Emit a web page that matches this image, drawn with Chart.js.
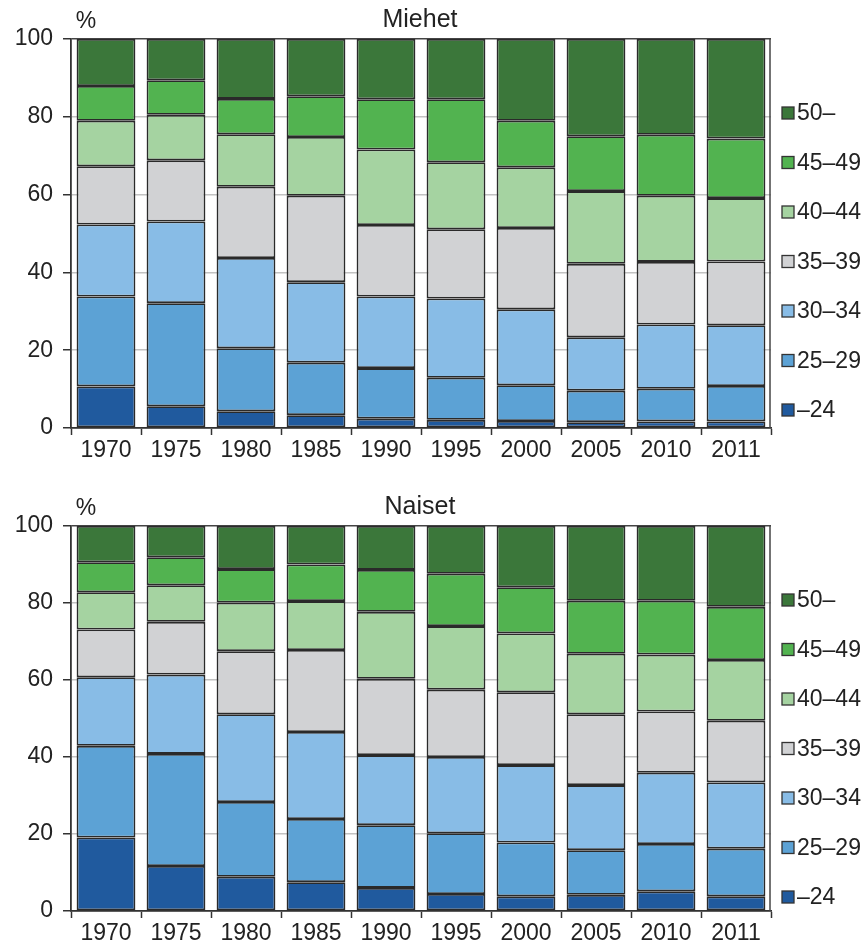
<!DOCTYPE html>
<html>
<head>
<meta charset="utf-8">
<script src="https://cdn.jsdelivr.net/npm/chart.js@4.4.0/dist/chart.umd.min.js"></script>
<style>
  body { margin: 0; background: #fff; }
  .wrap { position: absolute; left: 0; width: 866px; }
</style>
</head>
<body>
<div class="wrap" style="top:0"><canvas id="miehet" width="866" height="461"></canvas></div>
<div class="wrap" style="top:486px"><canvas id="naiset" width="866" height="458"></canvas></div>
<script>
// vuodet ja ikäryhmät
const vuodet = ["1970", "1975", "1980", "1985", "1990", "1995", "2000", "2005", "2010", "2011"];
const ikaryhmat = ["–24", "25–29", "30–34", "35–39", "40–44", "45–49", "50–"];
const varit = ["#205a9e", "#5ca2d5", "#88bce6", "#d1d2d4", "#a5d3a1", "#52b350", "#3b773a"];

// Miehet, % (luettu kuvasta)
const m24 = [10.7, 5.6, 4.3, 3.3, 2.4, 2.1, 1.8, 1.5, 1.7, 1.7];
const m25 = [23.1, 26.5, 16.2, 13.5, 13.0, 10.8, 9.2, 8.1, 8.4, 9.1];
const m30 = [18.5, 21.0, 23.2, 20.7, 18.4, 20.4, 19.5, 13.7, 16.5, 15.6];
const m35 = [15.0, 15.7, 18.3, 22.2, 18.4, 17.8, 20.9, 18.9, 16.1, 16.4];
const m40 = [11.7, 11.7, 13.5, 15.1, 19.4, 17.2, 15.6, 18.7, 17.0, 16.3];
const m45 = [8.9, 8.9, 9.1, 10.5, 12.9, 16.2, 12.0, 14.1, 15.7, 15.3];
const m50 = [12.1, 10.6, 15.4, 14.7, 15.5, 15.5, 21.0, 25.0, 24.6, 25.6];

// Naiset, %
const n24 = [19.1, 11.7, 8.9, 7.5, 6.0, 4.4, 3.8, 4.2, 5.1, 3.8];
const n25 = [23.8, 29.1, 19.4, 16.4, 16.3, 15.8, 14.0, 11.6, 12.3, 12.4];
const n30 = [17.8, 20.6, 22.8, 22.6, 18.2, 19.8, 20.1, 16.9, 18.5, 17.2];
const n35 = [12.4, 13.7, 16.4, 21.3, 19.8, 17.5, 18.9, 18.4, 15.9, 16.0];
const n40 = [9.7, 9.5, 12.6, 12.7, 17.4, 16.5, 15.3, 15.7, 14.8, 15.8];
const n45 = [7.8, 7.3, 8.7, 9.5, 10.9, 13.6, 12.0, 13.8, 14.0, 13.8];
const n50 = [9.4, 8.1, 11.2, 10.0, 11.4, 12.4, 15.9, 19.4, 19.4, 21.0];

const yTicks = [0, 20, 40, 60, 80, 100];

Chart.defaults.font.family = "'Liberation Sans', Arial, sans-serif";
Chart.defaults.font.size = 23;
Chart.defaults.color = "#222";

// otsikko, % -merkki, kehys ja selite piirretään itse
const koristeet = {
    id: "koristeet",
    afterDraw(chart, args, opts) {
        const ctx = chart.ctx;
        const a = chart.chartArea;
        ctx.save();
        // oikea reuna
        ctx.strokeStyle = "#444";
        ctx.lineWidth = 1.5;
        ctx.beginPath();
        ctx.moveTo(a.right - 1, a.top);
        ctx.lineTo(a.right - 1, a.bottom);
        ctx.stroke();

        ctx.fillStyle = "#222";
        ctx.textBaseline = "middle";
        ctx.textAlign = "center";
        ctx.font = "25px 'Liberation Sans', Arial, sans-serif";
        ctx.fillText(opts.otsikko, (a.left + a.right) / 2 - 1, a.top - 19);
        ctx.font = "23px 'Liberation Sans', Arial, sans-serif";
        ctx.fillText("%", a.left + 15, a.top - 17);

        // selite ylhäältä alas: 50– ... –24
        ctx.textAlign = "left";
        const sets = chart.data.datasets.slice().reverse();
        sets.forEach((ds, i) => {
            const y = a.top + 74 + i * 49.5;
            ctx.fillStyle = ds.backgroundColor;
            ctx.fillRect(a.right + 11, y - 6, 12, 12);
            ctx.strokeStyle = "#333";
            ctx.lineWidth = 1.3;
            ctx.strokeRect(a.right + 11, y - 6, 12, 12);
            ctx.fillStyle = "#222";
            ctx.fillText(ds.label, a.right + 26, y + 1);
        });
        ctx.restore();
    }
};

function teeKaavio(id, otsikko, sarjat, ylaVali) {
    new Chart(document.getElementById(id), {
        type: "bar",
        data: {
            labels: vuodet,
            datasets: sarjat.map((d, i) => ({
                label: ikaryhmat[i],
                data: d,
                backgroundColor: varit[i],
                borderColor: "#2a2a2a",
                borderWidth: 1.8,
                borderSkipped: false,
                barPercentage: 0.84,
                categoryPercentage: 1
            }))
        },
        options: {
            responsive: false,
            animation: false,
            layout: { padding: { top: ylaVali, right: 95, left: 0, bottom: 0 } },
            plugins: {
                legend: { display: false },
                tooltip: { enabled: false },
                koristeet: { otsikko: otsikko }
            },
            scales: {
                x: {
                    stacked: true,
                    afterFit: s => { s.height = 33; },
                    grid: { offset: true, drawOnChartArea: false, drawTicks: true, tickLength: 7, tickColor: "#333", tickWidth: 1.5 },
                    border: { color: "#333", width: 1.8 },
                    ticks: { padding: 2, color: "#222" }
                },
                y: {
                    stacked: true,
                    min: 0,
                    max: 100,
                    afterFit: s => { s.width = 71; },
                    afterBuildTicks: s => { s.ticks = yTicks.map(v => ({ value: v })); },
                    grid: {
                        color: c => c.tick.value === 100 ? "#444" : "#c2c2c2",
                        lineWidth: 1.5,
                        tickLength: 8,
                        tickColor: "#333",
                        tickWidth: 1.5
                    },
                    border: { color: "#333", width: 1.8 },
                    ticks: { padding: 10, color: "#222" }
                }
            }
        },
        plugins: [koristeet]
    });
}

teeKaavio("miehet", "Miehet", [m24, m25, m30, m35, m40, m45, m50], 39);
teeKaavio("naiset", "Naiset", [n24, n25, n30, n35, n40, n45, n50], 40);
</script>
</body>
</html>
